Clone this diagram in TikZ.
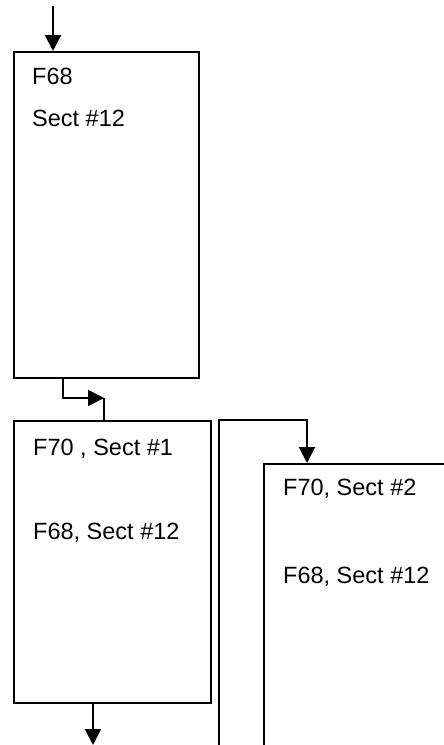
\documentclass[tikz,border=0pt]{standalone}
\usepackage{fontspec}
\setmainfont{Liberation Sans}
\usetikzlibrary{arrows.meta, positioning, calc}

\begin{document}
\begin{tikzpicture}[
		x=1pt, y=-1pt,
		box/.style={draw, rectangle, line width=2pt, inner sep=0pt, anchor=north west},
		lbl/.style={anchor=base west, inner sep=0pt, font=\fontsize{23.5}{28}\selectfont},
		flow/.style={-{Triangle[length=16pt, width=16pt]}, line width=2pt},
		link/.style={line width=2pt}
		]
		
		% Page frame (the right box runs off the edge)
		\path[use as bounding box] (0,0) rectangle (444,745);
		\clip (0,0) rectangle (444,745);
		
		% Boxes
		\node[box, minimum width=185pt, minimum height=326pt] (f68box) at (13,51) {};
		\node[box, minimum width=197pt, minimum height=282pt] (sect1box) at (13,420) {};
		\node[box, minimum width=260pt, minimum height=340pt] (sect2box) at (263,463) {};
		
		% Texts
		\node[lbl] (f68lbl) at (32,84) {F68};
		\node[lbl] (f68sect) at (32,126) {Sect \#12};
		\node[lbl] (s1top) at (33,455) {F70 , Sect \#1};
		\node[lbl] (s1bot) at (33,539) {F68, Sect \#12};
		\node[lbl] (s2top) at (283,495) {F70, Sect \#2};
		\node[lbl] (s2bot) at (283,583) {F68, Sect \#12};
		
		% Connectors
		\coordinate (in) at (53,6);
		\coordinate (k1) at (63,398);
		\coordinate (k2) at (104,398);
		\coordinate (out) at (93,745);
		\coordinate (b1) at (219,745);
		\coordinate (b2) at (219,420);
		\coordinate (b3) at (307,420);
		
		\draw[flow] (in) -- (in |- f68box.north);
		\draw[flow] (k1 |- f68box.south) -- (k1) -- (k2);
		\draw[link] (k2) -- (k2 |- sect1box.north);
		\draw[flow] (out |- sect1box.south) -- (out);
		\draw[flow] (b1) -- (b2) -- (b3) -- (b3 |- sect2box.north);
		
	\end{tikzpicture}
\end{document}
